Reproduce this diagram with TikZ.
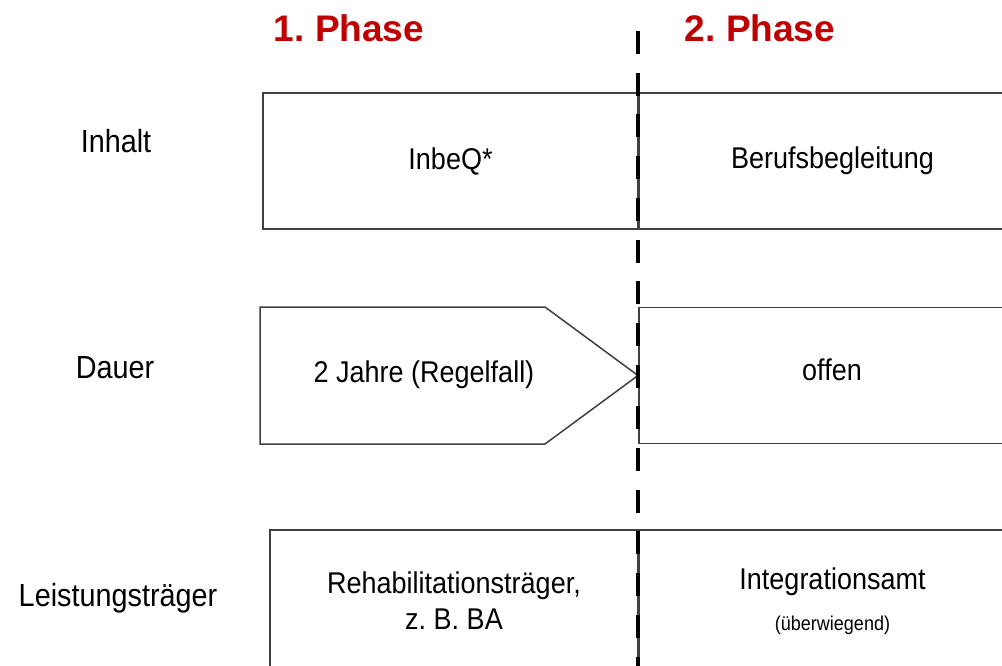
\documentclass[tikz,border=0pt]{standalone}
\usepackage{fontspec}
\setmainfont{Liberation Sans}
\newfontfamily\scanfont[FakeStretch=0.9]{Liberation Sans}
\usepackage{tikz}
\usetikzlibrary{positioning}
\frenchspacing
\definecolor{phasered}{RGB}{192,0,0}
\tikzstyle{cell}=
[rectangle,
draw=black!75,
line width=1.5pt,
minimum height=136pt,
inner sep=0pt,
align=center,
font=\scanfont\fontsize{30}{36}\selectfont]
\tikzstyle{rowlabel}=
[inner sep=0pt,
font=\scanfont\fontsize{32}{38}\selectfont]
\tikzstyle{phase}=
[inner sep=0pt,
text=phasered,
font=\bfseries\fontsize{37}{44}\selectfont]
\tikzstyle{divider}=
[line width=4pt,dash pattern=on 23pt off 18.7pt]

\begin{document}
\begin{tikzpicture}[x=1pt,y=-1pt]
\clip (0,0) rectangle (1002,666);
\fill[white] (0,0) rectangle (1002,666);
% phase titles
\node (P1) [phase] at (349,28) {1. Phase};
\node (P2) [phase] at (760,28) {2. Phase};
% row labels
\node (Linhalt) [rowlabel] at (116,141) {Inhalt};
\node (Ldauer) [rowlabel] at (115,368) {Dauer};
\node (Lleist) [rowlabel] at (118,598) {Leistungsträger};
% row 1
\node (A1)
[cell,
minimum width=375pt]
at (450.5,161) {InbeQ*};
\node (B1)
[cell,
minimum width=386pt,
right=0pt of A1]
{Berufsbegleitung};
% row 2
\coordinate (A2nw) at (260,307);
\coordinate (A2sw) at (260,444);
\coordinate (A2tip) at (638,375.5);
\draw[draw=black!75,line width=1.5pt]
(A2nw)--(545,307)--(A2tip)--(545,444)--(A2sw)--cycle;
\node (A2) [inner sep=0pt,font=\scanfont\fontsize{30}{36}\selectfont]
at (424,375) {2 Jahre (Regelfall)};
\node (B2)
[cell,
minimum width=386pt,
text depth=12pt]
at (832,375.5) {offen};
% row 3
\node (A3)
[cell,
minimum width=368pt,
minimum height=142pt]
at (454,601) {Rehabilitationsträger,\\z. B. BA};
\node (B3)
[cell,
minimum width=386pt,
minimum height=142pt,
right=0pt of A3]
{Integrationsamt\\[5pt]{\fontsize{20}{24}\selectfont(überwiegend)}};
% phase border
\coordinate (Dtop) at (638,31);
\coordinate (Dbot) at (638,670);
\draw[divider](Dtop)--(Dbot);
\end{tikzpicture}
\end{document}
